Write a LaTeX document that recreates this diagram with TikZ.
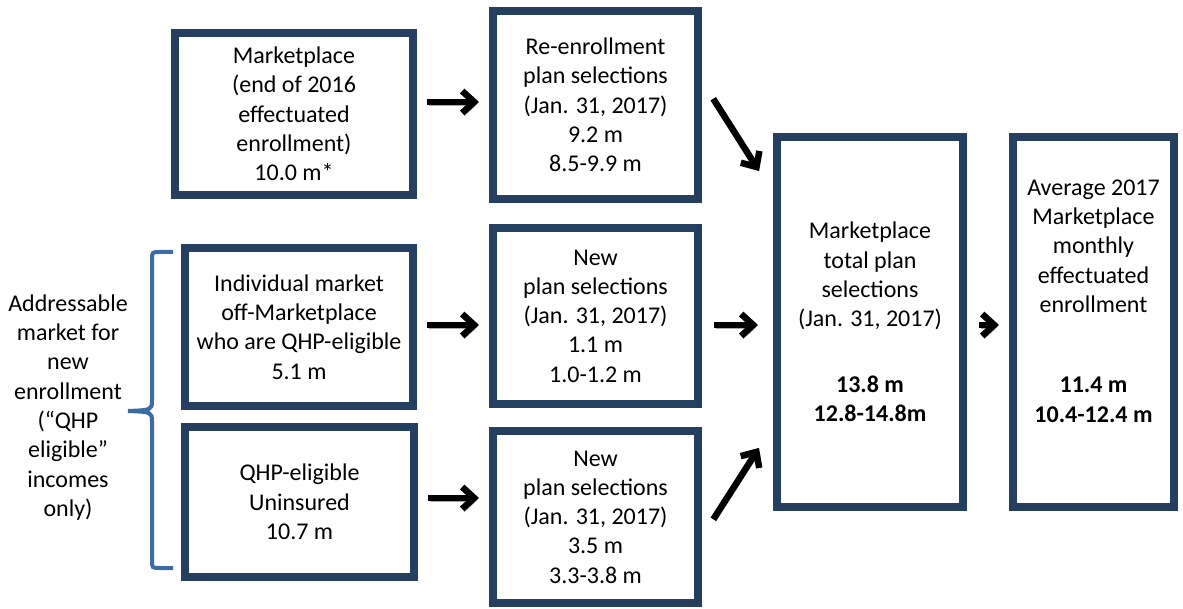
\documentclass[tikz,border=0pt]{standalone}
\usepackage{fontspec}
\setmainfont{Carlito}
\usetikzlibrary{arrows.meta}
\definecolor{navy}{HTML}{243F60}
\definecolor{bracecol}{HTML}{3B6CA5}
\begin{document}
\begin{tikzpicture}[x=1pt,y=-1pt,
  box/.style={draw=navy, line width=8pt, align=center, inner sep=0pt, text=black,
    font=\fontsize{24}{29.3}\selectfont},
  arr/.style={line width=6.5pt, -{Straight Barb[length=12pt,width=22pt]},
    preaction={draw=black!35, transform canvas={shift={(2pt,-3pt)}}}},
  lbl/.style={align=center, inner sep=0pt, font=\fontsize{24}{29.3}\selectfont}
]
\useasboundingbox (0,0) rectangle (1183,609);

\node[box, minimum width=238pt, minimum height=162pt] (b1) at (294,114)
  {Marketplace\\(end of 2016\\effectuated\\enrollment)\\10.0 m*};
\node[box, minimum width=205pt, minimum height=188pt] (b2) at (595.5,105)
  {Re-enrollment\\plan selections\\(Jan. 31, 2017)\\9.2 m\\8.5-9.9 m};
\node[box, minimum width=228pt, minimum height=158pt] (b3) at (299,327)
  {Individual market\\off-Marketplace\\who are QHP-eligible\\5.1 m};
\node[box, minimum width=229pt, minimum height=150pt] (b4) at (299.5,502)
  {QHP-eligible\\Uninsured\\10.7 m};
\node[box, minimum width=205pt, minimum height=176pt] (b5) at (595.5,316)
  {New\\plan selections\\(Jan. 31, 2017)\\1.1 m\\1.0-1.2 m};
\node[box, minimum width=205pt, minimum height=172pt] (b6) at (595.5,517)
  {New\\plan selections\\(Jan. 31, 2017)\\3.5 m\\3.3-3.8 m};
\node[box, minimum width=186pt, minimum height=370pt] (b7) at (870,322)
  {Marketplace\\total plan\\selections\\(Jan. 31, 2017)\\[36pt]\textbf{13.8 m}\\\textbf{12.8-14.8m}};
\node[box, minimum width=161pt, minimum height=370pt] (b8) at (1093.5,322)
  {Average 2017\\Marketplace\\monthly\\effectuated\\enrollment\\[51pt]\textbf{11.4 m}\\\textbf{10.4-12.4 m}\\[12.7pt]\mbox{}};

\node[lbl] (addr) at (68,407.5)
  {Addressable\\market for\\new\\enrollment\\(“QHP\\eligible”\\incomes\\only)};

\draw[bracecol, line width=4pt]
  (173,252) -- (160,252) .. controls (152,252) .. (152,260) -- (152,400)
  .. controls (152,410) .. (128,411) .. controls (152,412) .. (152,422)
  -- (152,560) .. controls (152,568) .. (160,568) -- (173,568);

\draw[arr, shorten <=10pt, shorten >=10pt] (b1.east |- 0,102) -- (b2.west |- 0,102);
\draw[arr, shorten <=21pt, shorten >=26pt] (b2.east |- 0,81) -- (b7.west |- 0,193);
\draw[arr, shorten <=10pt, shorten >=10pt] (b3.east |- 0,325) -- (b5.west |- 0,325);
\draw[arr, shorten <=12pt, shorten >=15pt] (b5.east |- 0,325) -- (b7.west |- 0,325);
\draw[arr, shorten <=10pt, shorten >=10pt] (b4.east |- 0,498) -- (b6.west |- 0,498);
\draw[arr, shorten <=21pt, shorten >=26pt] (b6.east |- 0,537) -- (b7.west |- 0,426);
\draw[arr, shorten <=12pt, shorten >=10pt] (b7.east |- 0,325) -- (b8.west |- 0,325);
\end{tikzpicture}
\end{document}
